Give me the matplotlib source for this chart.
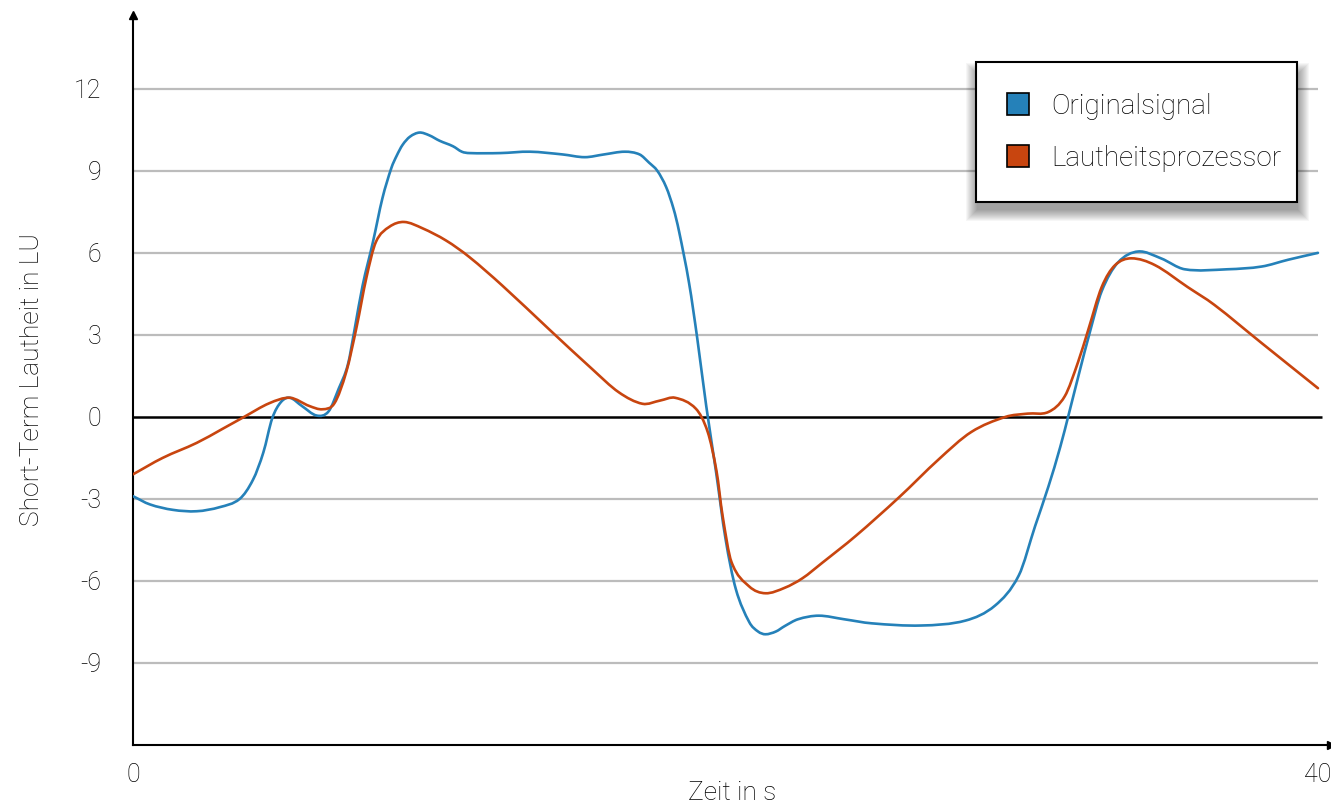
import matplotlib.pyplot as plt
from matplotlib.patches import Patch, PathPatch, Rectangle
from matplotlib.path import Path

# values
time_orig = [0.0, 0.57, 1.35, 2.15, 2.93, 3.6, 4.05, 4.4, 4.7, 5.0, 5.3, 5.7, 6.2, 6.6,
             6.95, 7.25, 7.48, 7.75, 8.1, 8.42, 8.72, 8.9, 9.1, 9.35, 9.67, 10.0,
             10.35, 10.8, 11.1, 11.35, 12.4, 13.4, 14.5, 15.25, 15.9, 16.6, 17.1,
             17.42, 17.7, 18.0, 18.25, 18.43, 18.77, 19.05, 19.35, 19.68, 20.0, 20.35,
             20.8, 21.1, 21.35, 21.7, 22.0, 22.45, 23.15, 24.0, 24.94, 26.6, 28.1,
             29.1, 29.9, 30.45, 30.9, 31.3, 31.6, 31.95, 32.3, 32.7, 33.25, 33.93,
             34.7, 35.5, 36.95, 38.1, 39.0, 40.0]
original = [-2.9, -3.2, -3.4, -3.45, -3.3, -3.0, -2.3, -1.3, -0.05, 0.55, 0.7, 0.4, 0.05,
            0.2, 1.05, 1.9, 3.2, 4.8, 6.4, 8.0, 9.1, 9.55, 9.95, 10.25, 10.4, 10.3,
            10.1, 9.9, 9.7, 9.65, 9.65, 9.7, 9.6, 9.5, 9.6, 9.7, 9.6, 9.3, 9.0, 8.4,
            7.6, 6.8, 4.9, 2.85, 0.4, -2.0, -4.45, -6.3, -7.5, -7.85, -7.95, -7.85,
            -7.65, -7.4, -7.27, -7.4, -7.55, -7.63, -7.45, -6.9, -5.8, -4.0, -2.55,
            -1.1, 0.15, 1.65, 3.1, 4.6, 5.65, 6.05, 5.8, 5.4, 5.4, 5.5, 5.75, 6.0]

time_proc = [0.0, 1.0, 2.15, 3.0, 3.75, 4.6, 5.3, 5.95, 6.4, 6.8, 7.2, 7.55, 7.88, 8.2,
             8.65, 9.15, 9.77, 10.57, 11.35, 12.47, 14.05, 15.5, 16.4, 17.2,
             17.8, 18.3, 19.0, 19.4, 19.7, 19.9, 20.2, 20.8, 21.35, 22.0, 22.6, 23.25,
             24.4, 25.85, 27.2, 28.3, 29.45, 30.2, 30.9, 31.45, 31.9, 32.25, 32.7,
             33.15, 33.7, 34.5, 35.6, 36.5, 38.1, 40.0]
processed = [-2.1, -1.5, -0.95, -0.45, 0.0, 0.5, 0.7, 0.4, 0.28, 0.5, 1.65, 3.3, 5.1,
             6.4, 6.95, 7.13, 6.9, 6.45, 5.85, 4.8, 3.2, 1.75, 0.9, 0.48, 0.6,
             0.7, 0.3, -0.55, -2.0, -3.6, -5.3, -6.2, -6.45, -6.25, -5.9, -5.35, -4.35,
             -2.95, -1.55, -0.55, 0.0, 0.12, 0.18, 0.75, 2.0, 3.2, 4.75, 5.55, 5.8,
             5.55, 4.75, 4.1, 2.7, 1.05]

series_names = ["Originalsignal", "Lautheitsprozessor"]
series_colors = ["#2581b9", "#c8450f"]
y_ticks = [-9, -6, -3, 0, 3, 6, 9, 12]
x_ticks = [0, 40]


def smooth_path(xs, ys):
    # smoothed line through the read points (like the original's smooth line style)
    n = len(xs)
    slopes = []
    for i in range(n):
        a, b = max(i - 1, 0), min(i + 1, n - 1)
        slopes.append((ys[b] - ys[a]) / (xs[b] - xs[a]))
    verts = [(xs[0], ys[0])]
    codes = [Path.MOVETO]
    for i in range(n - 1):
        h = (xs[i + 1] - xs[i]) / 3
        verts += [(xs[i] + h, ys[i] + h * slopes[i]),
                  (xs[i + 1] - h, ys[i + 1] - h * slopes[i + 1]),
                  (xs[i + 1], ys[i + 1])]
        codes += [Path.CURVE4] * 3
    return Path(verts, codes)


plt.rcParams["font.family"] = ["Roboto", "DejaVu Sans"]
plt.rcParams["font.weight"] = "light"
plt.rcParams["axes.labelweight"] = "light"
plt.rcParams["text.color"] = "black"

W, H = 1331, 806
fig = plt.figure(figsize=(W / 100, H / 100), dpi=100)
ax = fig.add_axes([133 / W, 61 / H, 1198 / W, 730 / H])
ax.set_xlim(0, 40.44)
ax.set_ylim(-12, 14.7)

# grid and zero line
ax.hlines([y for y in y_ticks if y != 0], 0, 40, color="#bcbcbc", lw=1.6, zorder=1)
ax.hlines(0, 0, 40.15, color="black", lw=1.8, zorder=1.5)

for xs, ys, c in [(time_orig, original, series_colors[0]),
                  (time_proc, processed, series_colors[1])]:
    ax.add_patch(PathPatch(smooth_path(xs, ys), fill=False, edgecolor=c, lw=1.9,
                           joinstyle="round", capstyle="round", zorder=3))

for side in ["top", "right"]:
    ax.spines[side].set_visible(False)
for side in ["left", "bottom"]:
    ax.spines[side].set_linewidth(1.5)
ax.plot(0, 1, "^k", ms=6, transform=ax.transAxes, clip_on=False)
ax.plot(1, 0, ">k", ms=6, transform=ax.transAxes, clip_on=False)

ax.set_yticks(y_ticks)
ax.set_yticklabels([str(y) for y in y_ticks])
ax.set_xticks(x_ticks)
ax.set_xticklabels([str(x) for x in x_ticks])
ax.tick_params(axis="y", length=0, pad=23, labelsize=18, labelcolor="black")
ax.tick_params(axis="x", length=0, pad=13, labelsize=18, labelcolor="black")

ax.set_ylabel("Short-Term Lautheit in LU", fontsize=19)
ax.yaxis.set_label_coords(-0.074, 0.5)
ax.set_xlabel("Zeit in s", fontsize=19)
ax.xaxis.set_label_coords(0.5, -0.05)

handles = [Patch(facecolor=c, edgecolor="black", lw=1.2, label=n)
           for c, n in zip(series_colors, series_names)]
leg = ax.legend(handles=handles, loc="upper left", mode="expand",
                bbox_to_anchor=(976 / W, 1 - 200 / H, 321 / W, 138 / H),
                bbox_transform=fig.transFigure,
                fontsize=20, fancybox=False, edgecolor="black", framealpha=1,
                borderpad=1.1, handlelength=0.8, handleheight=0.8,
                handletextpad=0.8, labelspacing=0.9, borderaxespad=0)
leg.get_frame().set_linewidth(1.5)
leg.set_zorder(10)

# soft drop shadow under the legend box
fig.canvas.draw()
bb = leg.get_frame().get_window_extent().transformed(fig.transFigure.inverted())
for k in range(12):
    gx, gy = k / W, k / H
    ax.add_patch(Rectangle((bb.x0 - gx + 1 / W, bb.y0 - gy - 8 / H),
                           bb.width + 2 * gx, bb.height + 2 * gy - 4 / H,
                           transform=fig.transFigure, facecolor="black",
                           edgecolor="none", alpha=0.035, zorder=9, clip_on=False))

fig.savefig("out.png", dpi=100)
